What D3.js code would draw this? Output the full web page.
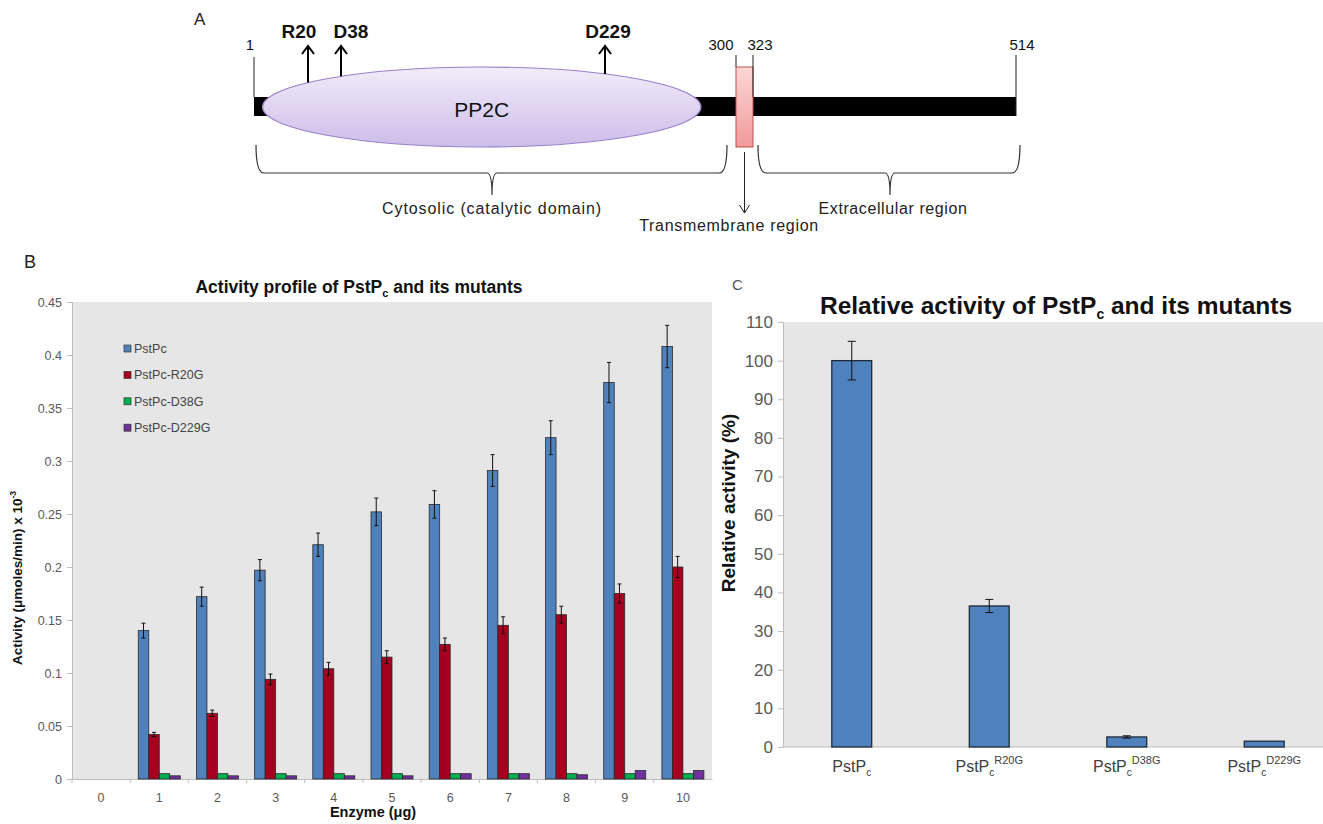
<!DOCTYPE html>
<html>
<head>
<meta charset="utf-8">
<script src="https://cdn.jsdelivr.net/npm/d3@7"></script>
<style>
  body { margin: 0; background: #fff; }
  text { font-family: "Liberation Sans", Arial, sans-serif; }
  .narrow { font-family: "Liberation Sans Narrow", "Liberation Sans", Arial, sans-serif; }
</style>
</head>
<body>
<div id="chart"></div>
<script>
// ---- data ----
// panel A: residue landmarks of the protein schematic
const landmarks = [1, 300, 323, 514];
const siteNames = ["R20", "D38", "D229"];
const siteResidues = [20, 38, 229];
const pp2cRange = [4, 281];
const tmRange = [300, 323];

// panel B: activity vs enzyme amount
const doses = ["0", "1", "2", "3", "4", "5", "6", "7", "8", "9", "10"];
const seriesNames = ["PstPc", "PstPc-R20G", "PstPc-D38G", "PstPc-D229G"];
const wtVals   = [0, 0.140, 0.172, 0.197, 0.221, 0.252, 0.259, 0.291, 0.322, 0.374, 0.408];
const wtErr    = [0, 0.007, 0.009, 0.010, 0.011, 0.013, 0.013, 0.015, 0.016, 0.019, 0.020];
const r20Vals  = [0, 0.042, 0.062, 0.094, 0.104, 0.115, 0.127, 0.145, 0.155, 0.175, 0.200];
const r20Err   = [0, 0.002, 0.003, 0.005, 0.006, 0.006, 0.006, 0.008, 0.008, 0.009, 0.010];
const d38Vals  = [0, 0.005, 0.005, 0.005, 0.005, 0.005, 0.005, 0.005, 0.005, 0.005, 0.005];
const d229Vals = [0, 0.003, 0.003, 0.003, 0.003, 0.003, 0.005, 0.005, 0.004, 0.008, 0.008];
const bYTicks = [0, 0.05, 0.1, 0.15, 0.2, 0.25, 0.3, 0.35, 0.4, 0.45];

// panel C: relative activity
const relCats = ["R", "R20G", "D38G", "D229G"];
const relVals = [100, 36.5, 2.6, 1.5];
const relErr  = [5, 1.7, 0.3, 0];
const cYTicks = d3.range(0, 111, 10);

const seriesColors = ["#4f81bd", "#a5001f", "#00b050", "#7030a0"];

// ---- svg ----
const W = 1323, H = 824;
const svg = d3.select("#chart").append("svg")
    .attr("width", W).attr("height", H)
    .style("display", "block");

const defs = svg.append("defs");
const g1 = defs.append("linearGradient").attr("id", "ellGrad")
    .attr("x1", 0).attr("y1", 0).attr("x2", 0).attr("y2", 1);
g1.append("stop").attr("offset", "0%").attr("stop-color", "#f1ecf9");
g1.append("stop").attr("offset", "100%").attr("stop-color", "#cdbde9");
const g2 = defs.append("linearGradient").attr("id", "tmGrad")
    .attr("x1", 0).attr("y1", 0).attr("x2", 0).attr("y2", 1);
g2.append("stop").attr("offset", "0%").attr("stop-color", "#fcd6d6");
g2.append("stop").attr("offset", "100%").attr("stop-color", "#f19a9a");

// =============== PANEL A ===============
// schematic, not drawn to scale: piecewise scale residue -> x
const xA = d3.scaleLinear()
    .domain([1, 20, 38, 229, 300, 323, 514])
    .range([254, 308, 341, 605, 736, 753, 1016]);
const barY = 97, barH = 19;
const A = svg.append("g");

A.append("text").text("A").attr("x", 194).attr("y", 25)
    .attr("font-size", 17).attr("fill", "#222");

// backbone
A.append("rect").attr("x", xA(1)).attr("y", barY)
    .attr("width", xA(514) - xA(1)).attr("height", barH).attr("fill", "#000");

// PP2C domain ellipse
const ecx = (xA(pp2cRange[0]) + xA(pp2cRange[1])) / 2;
const erx = (xA(pp2cRange[1]) - xA(pp2cRange[0])) / 2;
const ecy = 107, ery = 40;
A.append("ellipse").attr("cx", ecx).attr("cy", ecy).attr("rx", erx).attr("ry", ery)
    .attr("fill", "url(#ellGrad)").attr("stroke", "#9a80c8").attr("stroke-width", 1.2);
A.append("text").text("PP2C").attr("x", ecx).attr("y", 117)
    .attr("text-anchor", "middle").attr("font-size", 21).attr("fill", "#111");

// transmembrane box
A.append("rect").attr("x", xA(tmRange[0])).attr("y", 67)
    .attr("width", xA(tmRange[1]) - xA(tmRange[0])).attr("height", 80)
    .attr("fill", "url(#tmGrad)").attr("stroke", "#c0504d").attr("stroke-width", 1);

// landmark ticks + numbers
const lmTop = [57, 55, 55, 55];
const lmBottom = [97, 67, 97, 116];
const lmDx = [-4, -15, 7, 6];
landmarks.forEach((r, i) => {
  A.append("line").attr("x1", xA(r)).attr("x2", xA(r))
      .attr("y1", lmTop[i]).attr("y2", lmBottom[i])
      .attr("stroke", "#222").attr("stroke-width", 1);
  A.append("text").attr("class", "narrow").text(r)
      .attr("x", xA(r) + lmDx[i]).attr("y", 50)
      .attr("text-anchor", "middle").attr("font-size", 15).attr("fill", "#111");
});

// mutation site arrows
const siteDx = [-9, 10, 3];
siteResidues.forEach((r, i) => {
  const x = xA(r);
  const yBase = ecy - ery * Math.sqrt(Math.max(0, 1 - Math.pow((x - ecx) / erx, 2)));
  const tip = 46;
  A.append("line").attr("x1", x).attr("x2", x).attr("y1", yBase).attr("y2", tip)
      .attr("stroke", "#000").attr("stroke-width", 2);
  A.append("path").attr("d", `M${x - 6},${tip + 8} L${x},${tip} L${x + 6},${tip + 8}`)
      .attr("fill", "none").attr("stroke", "#000").attr("stroke-width", 2);
  A.append("text").text(siteNames[i]).attr("x", x + siteDx[i]).attr("y", 38)
      .attr("text-anchor", "middle").attr("font-size", 19).attr("font-weight", "bold")
      .attr("fill", "#111");
});

// braces
function brace(x1, x2, xm) {
  const top = 145, yh = 173, ym = 195;
  return `M${x1},${top} Q${x1},${yh} ${x1 + 8},${yh} L${xm - 5},${yh} Q${xm},${yh} ${xm},${ym}` +
         ` Q${xm},${yh} ${xm + 5},${yh} L${x2 - 8},${yh} Q${x2},${yh} ${x2},${top}`;
}
A.append("path").attr("d", brace(xA(1) + 2, 727, 492))
    .attr("fill", "none").attr("stroke", "#333").attr("stroke-width", 1.2);
A.append("path").attr("d", brace(758, 1020, 890))
    .attr("fill", "none").attr("stroke", "#333").attr("stroke-width", 1.2);
A.append("text").attr("class", "narrow").text("Cytosolic (catalytic domain)")
    .attr("x", 492).attr("y", 214).attr("text-anchor", "middle")
    .attr("font-size", 16).attr("letter-spacing", 0.9).attr("fill", "#222");
A.append("text").attr("class", "narrow").text("Extracellular region")
    .attr("x", 893).attr("y", 214).attr("text-anchor", "middle")
    .attr("font-size", 16).attr("letter-spacing", 0.6).attr("fill", "#222");
// transmembrane arrow
const tmX = (xA(tmRange[0]) + xA(tmRange[1])) / 2;
A.append("line").attr("x1", tmX).attr("x2", tmX).attr("y1", 152).attr("y2", 213)
    .attr("stroke", "#222").attr("stroke-width", 1);
A.append("path").attr("d", `M${tmX - 5},${205} L${tmX},${213} L${tmX + 5},${205}`)
    .attr("fill", "none").attr("stroke", "#222").attr("stroke-width", 1);
A.append("text").attr("class", "narrow").text("Transmembrane region")
    .attr("x", 729).attr("y", 231).attr("text-anchor", "middle")
    .attr("font-size", 16).attr("letter-spacing", 0.7).attr("fill", "#222");

// =============== PANEL B ===============
const bLeft = 72, bRight = 712, bTop = 302, bBottom = 779;
const B = svg.append("g");
B.append("text").text("B").attr("x", 24).attr("y", 268)
    .attr("font-size", 18).attr("fill", "#222");

B.append("rect").attr("x", bLeft).attr("y", bTop)
    .attr("width", bRight - bLeft).attr("height", bBottom - bTop).attr("fill", "#e6e6e6");

const x0 = d3.scaleBand().domain(doses).range([bLeft, bRight]);
const x1 = d3.scaleBand().domain(seriesNames).range([0, x0.bandwidth()])
    .paddingInner(0).paddingOuter(0.77);
const yB = d3.scaleLinear().domain([0, 0.45]).range([bBottom, bTop]);

// axes
const yAxisB = B.append("g").attr("transform", `translate(${bLeft},0)`)
    .call(d3.axisLeft(yB).tickValues(bYTicks).tickSize(5).tickPadding(5)
      .tickFormat(d => d3.format("")(+d.toFixed(2))));
const xAxisB = B.append("g").attr("transform", `translate(0,${bBottom})`)
    .call(d3.axisBottom(x0).tickSize(0).tickPadding(14));
[yAxisB, xAxisB].forEach(ax => {
  ax.select(".domain").attr("stroke", "#bdbdbd");
  ax.selectAll(".tick line").attr("stroke", "#bdbdbd");
  ax.selectAll("text").attr("font-family", "Liberation Sans, Arial, sans-serif")
      .attr("font-size", 12.5).attr("fill", "#595959");
});
// category boundary ticks
B.append("g").selectAll("line").data(doses).enter().append("line")
    .attr("x1", d => x0(d)).attr("x2", d => x0(d))
    .attr("y1", bBottom).attr("y2", bBottom + 4)
    .attr("stroke", "#bdbdbd");

const bSeries = [
  { name: seriesNames[0], vals: wtVals, err: wtErr },
  { name: seriesNames[1], vals: r20Vals, err: r20Err },
  { name: seriesNames[2], vals: d38Vals, err: null },
  { name: seriesNames[3], vals: d229Vals, err: null }
];
const barData = [];
bSeries.forEach((s, si) => {
  doses.forEach((d, di) => {
    barData.push({ dose: d, series: s.name, v: s.vals[di], e: s.err ? s.err[di] : 0, c: seriesColors[si] });
  });
});
B.append("g").selectAll("rect").data(barData.filter(d => d.v > 0)).enter().append("rect")
    .attr("x", d => x0(d.dose) + x1(d.series))
    .attr("y", d => yB(d.v))
    .attr("width", x1.bandwidth())
    .attr("height", d => yB(0) - yB(d.v))
    .attr("fill", d => d.c).attr("stroke", "#2a2a2a").attr("stroke-width", 0.8);

const errB = B.append("g").selectAll("g").data(barData.filter(d => d.e > 0)).enter().append("g")
    .attr("stroke", "#111").attr("stroke-width", 1);
errB.append("line")
    .attr("x1", d => x0(d.dose) + x1(d.series) + x1.bandwidth() / 2)
    .attr("x2", d => x0(d.dose) + x1(d.series) + x1.bandwidth() / 2)
    .attr("y1", d => yB(d.v - d.e)).attr("y2", d => yB(d.v + d.e));
[1, -1].forEach(sgn => {
  errB.append("line")
      .attr("x1", d => x0(d.dose) + x1(d.series) + x1.bandwidth() / 2 - 2)
      .attr("x2", d => x0(d.dose) + x1(d.series) + x1.bandwidth() / 2 + 2)
      .attr("y1", d => yB(d.v + sgn * d.e)).attr("y2", d => yB(d.v + sgn * d.e));
});

// legend
const leg = B.append("g").attr("transform", "translate(124,345)");
seriesNames.forEach((n, i) => {
  const row = leg.append("g").attr("transform", `translate(0,${i * 26.4})`);
  row.append("rect").attr("x", 0).attr("y", 0).attr("width", 7).attr("height", 7)
      .attr("fill", seriesColors[i]).attr("stroke", "#333").attr("stroke-width", 0.7);
  row.append("text").text(n).attr("x", 10).attr("y", 8)
      .attr("font-size", 12.5).attr("fill", "#444");
});

// titles
const tB = B.append("text").attr("x", 359).attr("y", 293).attr("text-anchor", "middle")
    .attr("font-size", 17.5).attr("font-weight", "bold").attr("fill", "#111");
tB.append("tspan").text("Activity profile of PstP");
tB.append("tspan").text("c").attr("font-size", 11).attr("dy", 4);
tB.append("tspan").text(" and its mutants").attr("dy", -4);

const yLabB = B.append("text").attr("transform", "translate(22,578) rotate(-90)")
    .attr("text-anchor", "middle").attr("font-size", 13.5).attr("font-weight", "bold").attr("fill", "#111");
yLabB.append("tspan").text("Activity (μmoles/min) x 10");
yLabB.append("tspan").text("-3").attr("font-size", 8.5).attr("dy", -6);

B.append("text").text("Enzyme (μg)").attr("x", 373).attr("y", 817)
    .attr("text-anchor", "middle").attr("font-size", 14.5).attr("font-weight", "bold").attr("fill", "#111");

// =============== PANEL C ===============
const cLeft = 783, cRight = 1333, cTop = 322, cBottom = 747;
const C = svg.append("g");
C.append("text").text("C").attr("x", 732).attr("y", 290)
    .attr("font-size", 15).attr("fill", "#555");

C.append("rect").attr("x", cLeft).attr("y", cTop)
    .attr("width", cRight - cLeft).attr("height", cBottom - cTop).attr("fill", "#e6e6e6");

const xC = d3.scaleBand().domain(relCats).range([cLeft, cRight])
    .paddingInner(0.71).paddingOuter(0.355);
const yC = d3.scaleLinear().domain([0, 110]).range([cBottom, cTop]);

const yAxisC = C.append("g").attr("transform", `translate(${cLeft},0)`)
    .call(d3.axisLeft(yC).tickValues(cYTicks).tickSize(5).tickPadding(5));
yAxisC.select(".domain").attr("stroke", "#bdbdbd");
yAxisC.selectAll(".tick line").attr("stroke", "#bdbdbd");
yAxisC.selectAll("text").attr("font-family", "Liberation Sans, Arial, sans-serif")
    .attr("font-size", 17).attr("fill", "#595959");
C.append("line").attr("x1", cLeft).attr("x2", cRight).attr("y1", cBottom).attr("y2", cBottom)
    .attr("stroke", "#bdbdbd");

const relData = relCats.map((c, i) => ({ cat: c, v: relVals[i], e: relErr[i] }));
C.append("g").selectAll("rect").data(relData).enter().append("rect")
    .attr("x", d => xC(d.cat)).attr("y", d => yC(d.v))
    .attr("width", xC.bandwidth()).attr("height", d => yC(0) - yC(d.v))
    .attr("fill", "#4f81bd").attr("stroke", "#1e2a38").attr("stroke-width", 1.3);

const errC = C.append("g").selectAll("g").data(relData.filter(d => d.e > 0)).enter().append("g")
    .attr("stroke", "#111").attr("stroke-width", 1);
errC.append("line")
    .attr("x1", d => xC(d.cat) + xC.bandwidth() / 2).attr("x2", d => xC(d.cat) + xC.bandwidth() / 2)
    .attr("y1", d => yC(d.v - d.e)).attr("y2", d => yC(d.v + d.e));
[1, -1].forEach(sgn => {
  errC.append("line")
      .attr("x1", d => xC(d.cat) + xC.bandwidth() / 2 - 4).attr("x2", d => xC(d.cat) + xC.bandwidth() / 2 + 4)
      .attr("y1", d => yC(d.v + sgn * d.e)).attr("y2", d => yC(d.v + sgn * d.e));
});

// category labels PstPc with superscript mutation
relCats.forEach((c, i) => {
  const t = C.append("text").attr("x", xC(c) + xC.bandwidth() / 2).attr("y", 772)
      .attr("text-anchor", "middle").attr("font-size", 16).attr("fill", "#404040");
  t.append("tspan").text("PstP");
  t.append("tspan").text("c").attr("font-size", 10).attr("dy", 4);
  if (i > 0) t.append("tspan").text(c).attr("font-size", 11).attr("dy", -12);
});

const tC = C.append("text").attr("x", 1056).attr("y", 314).attr("text-anchor", "middle")
    .attr("font-size", 24.5).attr("font-weight", "bold").attr("fill", "#111");
tC.append("tspan").text("Relative activity of PstP");
tC.append("tspan").text("c").attr("font-size", 14).attr("dy", 5);
tC.append("tspan").text(" and its mutants").attr("dy", -5);

C.append("text").text("Relative activity (%)")
    .attr("transform", "translate(735,503) rotate(-90)")
    .attr("text-anchor", "middle").attr("font-size", 19).attr("font-weight", "bold").attr("fill", "#111");
</script>
</body>
</html>
